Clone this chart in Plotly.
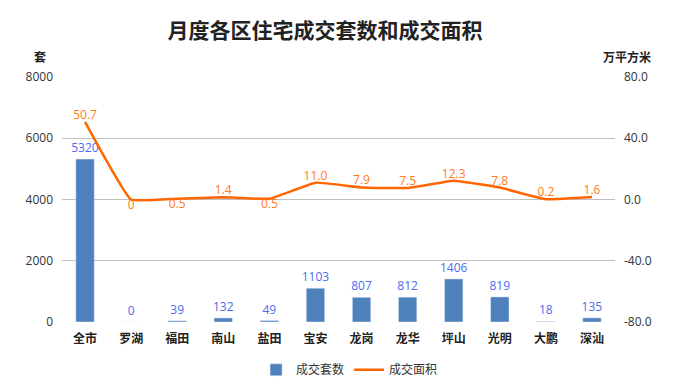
import plotly.graph_objects as go

categories = ["全市", "罗湖", "福田", "南山", "盐田", "宝安", "龙岗", "龙华", "坪山", "光明", "大鹏", "深汕"]
units = [5320, 0, 39, 132, 49, 1103, 807, 812, 1406, 819, 18, 135]
area = [50.7, 0, 0.5, 1.4, 0.5, 11.0, 7.9, 7.5, 12.3, 7.8, 0.2, 1.6]
area_labels = ["50.7", "0", "0.5", "1.4", "0.5", "11.0", "7.9", "7.5", "12.3", "7.8", "0.2", "1.6"]
area_pos = ["top center", "bottom center", "bottom center", "top center", "bottom center",
            "top center", "top center", "top center", "top center", "top center", "top center", "top center"]

left_ticks = [0, 2000, 4000, 6000, 8000]
right_ticks = [-80, -40, 0, 40, 80]
right_tick_text = ["-80.0", "-40.0", "0.0", "40.0", "80.0"]

font_main = "Noto Sans CJK SC"

fig = go.Figure()
fig.add_trace(go.Bar(
    x=categories, y=units, name="成交套数",
    marker_color="#4F81BD", width=0.4,
    text=[str(v) for v in units], textposition="outside", constraintext="none",
    textfont=dict(color="#4A6CF0", size=12, family="Open Sans"),
    cliponaxis=False,
))
fig.add_trace(go.Scatter(
    x=categories, y=area, name="成交面积", yaxis="y2",
    mode="lines+text", line=dict(color="#FF6600", width=2.5, shape="spline", smoothing=0.3),
    text=area_labels, textposition=area_pos,
    textfont=dict(color="#FF7A1A", size=12, family="Open Sans"),
    cliponaxis=False,
))

fig.update_layout(
    width=682, height=389,
    margin=dict(l=62, r=67, t=77, b=67, autoexpand=False),
    paper_bgcolor="white", plot_bgcolor="white",
    title=dict(text="<b>月度各区住宅成交套数和成交面积</b>", x=325 / 682, xref="container", xanchor="center",
               y=1 - 31 / 389, yref="container", yanchor="middle",
               font=dict(family=font_main, size=21, color="#222")),
    xaxis=dict(tickfont=dict(family=font_main, size=12, color="#222", weight="bold"),
               range=[-0.5, 11.5],
               showgrid=False, showline=False, ticks="", ticklabelstandoff=8, automargin=False),
    yaxis=dict(range=[0, 8000], tickvals=left_ticks, showgrid=True, gridcolor="#C0C0C0",
               gridwidth=1, zeroline=False, showline=False, automargin=False,
               tickfont=dict(family="Open Sans", size=12, color="#333"), ticklabelstandoff=8),
    yaxis2=dict(range=[-80, 80], tickvals=right_ticks, ticktext=right_tick_text, overlaying="y",
                side="right", showgrid=False, zeroline=False, showline=False, automargin=False,
                tickfont=dict(family="Open Sans", size=12, color="#333"), ticklabelstandoff=8),
    legend=dict(orientation="h", x=0.52, xanchor="center", y=-0.195, yanchor="middle",
                font=dict(family=font_main, size=12, color="#333"), itemwidth=30),
    showlegend=True,
    bargap=0.6,
)
fig.add_annotation(text="<b>套</b>", xref="paper", yref="paper", x=-0.04, y=1.082,
                   showarrow=False, xanchor="center", yanchor="middle",
                   font=dict(family=font_main, size=12, color="#222"))
fig.add_annotation(text="<b>万平方米</b>", xref="paper", yref="paper", x=1.022, y=1.082,
                   showarrow=False, xanchor="center", yanchor="middle",
                   font=dict(family=font_main, size=12, color="#222"))

fig.write_html("out.html", config={"displayModeBar": False},
               post_script="document.body.style.margin='0';")
